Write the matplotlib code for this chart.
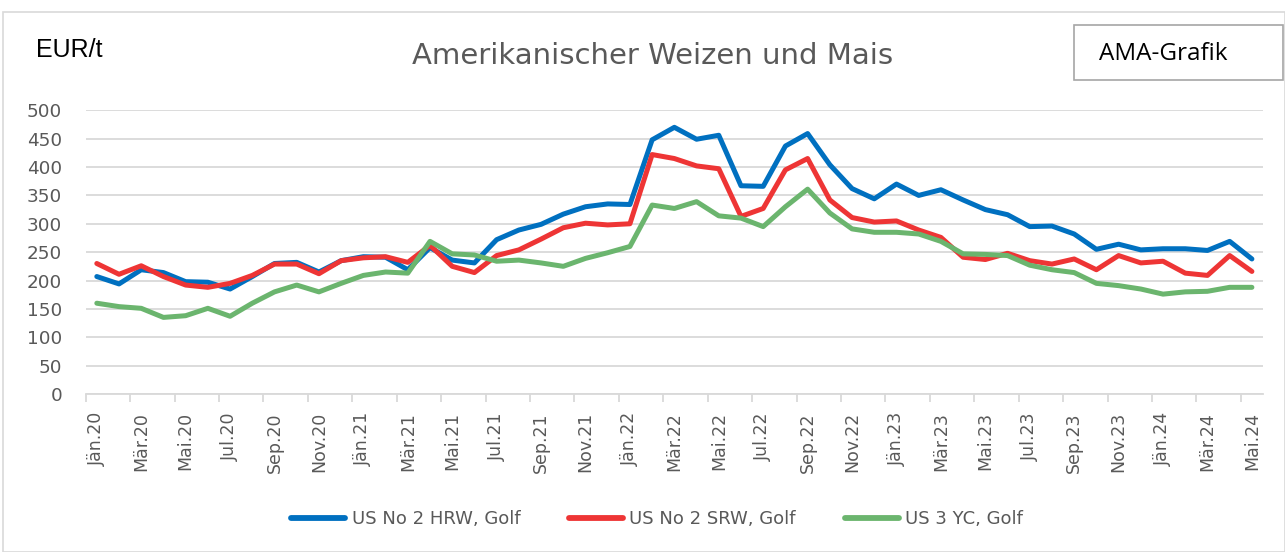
import numpy as np
import matplotlib.pyplot as plt
from matplotlib.patches import Rectangle

months = ["Jän", "Feb", "Mär", "Apr", "Mai", "Jun", "Jul", "Aug", "Sep", "Okt", "Nov", "Dez"]
labels = [f"{months[i % 12]}.{20 + i // 12}" for i in range(53)]

hrw = [207, 194, 219, 214, 198, 197, 185, 207, 230, 232, 215, 235, 242, 241, 219, 258,
       236, 231, 272, 289, 299, 317, 330, 335, 334, 448, 470, 449, 456, 367, 366, 437,
       459, 404, 362, 344, 370, 350, 360, 342, 325, 316, 295, 296, 282, 255, 264, 254,
       256, 256, 253, 269, 238]
srw = [230, 211, 226, 207, 192, 188, 195, 209, 229, 229, 212, 235, 240, 242, 232, 262,
       225, 214, 244, 254, 273, 293, 301, 298, 300, 422, 415, 402, 397, 313, 327, 395,
       415, 342, 311, 303, 305, 289, 276, 241, 237, 248, 235, 229, 238, 219, 244, 231,
       234, 213, 209, 244, 216]
yc = [160, 154, 151, 135, 138, 151, 137, 160, 180, 192, 180, 195, 209, 215, 213, 269,
      247, 245, 234, 236, 231, 225, 239, 249, 260, 333, 327, 339, 314, 310, 295, 330,
      361, 319, 291, 285, 285, 282, 269, 247, 246, 244, 227, 219, 214, 195, 191, 185,
      176, 180, 181, 188, 188]

plt.rcParams['font.family'] = ['DejaVu Sans']

fig = plt.figure(figsize=(12.85, 5.52), dpi=100)
# aeusserer Rahmen
fig.patches.append(Rectangle((3 / 1285, 0), 1 - 3 / 1285, 1 - 12 / 552, transform=fig.transFigure,
                             fill=False, edgecolor='#D9D9D9', linewidth=1.2))

ax = fig.add_axes([85.7 / 1285, 1 - 394 / 552, (1263 - 85.7) / 1285, (394 - 110.3) / 552])
x = np.arange(len(labels))
style = dict(lw=3.6, solid_joinstyle='round', solid_capstyle='round')
ax.plot(x, hrw, color='#0070C0', label='US No 2 HRW, Golf', **style)
ax.plot(x, srw, color='#EE3535', label='US No 2 SRW, Golf', **style)
ax.plot(x, yc, color='#6BB56E', label='US 3 YC, Golf', **style)

ax.set_xlim(-0.5, len(labels) - 0.5)
ax.set_ylim(0, 500)
ax.set_yticks(range(0, 501, 50))
ax.grid(axis='y', color='#D9D9D9', lw=1.3)
ax.set_axisbelow(True)
for s in ['top', 'right', 'left']:
    ax.spines[s].set_visible(False)
ax.spines['bottom'].set_color('#D9D9D9')
ax.spines['bottom'].set_linewidth(1.3)

ax.set_xticks(x[::2])
ax.set_xticklabels(labels[::2], rotation=90, fontsize=12.5, color='#595959')
ax.set_xticks(np.arange(-0.5, len(labels), 2), minor=True)
ax.tick_params(axis='x', which='major', length=0, pad=13)
ax.tick_params(axis='x', which='minor', length=6, color='#D9D9D9', width=1.3)
ax.tick_params(axis='y', length=0, labelsize=13.2, labelcolor='#595959', pad=17)

fig.text(36 / 1285, 1 - 50 / 552, 'EUR/t', fontsize=18, family='Liberation Sans',
         color='black', va='center', ha='left')
fig.text(653 / 1285, 1 - 56 / 552, 'Amerikanischer Weizen und Mais', fontsize=21,
         color='#595959', ha='center', va='center')
fig.patches.append(Rectangle((1074 / 1285, 1 - 80 / 552), 209 / 1285, 55 / 552,
                             transform=fig.transFigure, fill=False, edgecolor='#A6A6A6', linewidth=1.2))
fig.text(1163 / 1285, 1 - 54 / 552, 'AMA-Grafik', fontsize=17.5, family='Open Sans',
         color='black', ha='center', va='center')

leg = fig.legend(loc='center', bbox_to_anchor=(657 / 1285, 1 - 519 / 552), ncol=3, frameon=False,
                 fontsize=13, labelcolor='#595959', handlelength=3.0, columnspacing=2.7,
                 handletextpad=0.35)
for h in leg.get_lines():
    h.set_linewidth(4.2)

fig.savefig('out.png', dpi=100)
